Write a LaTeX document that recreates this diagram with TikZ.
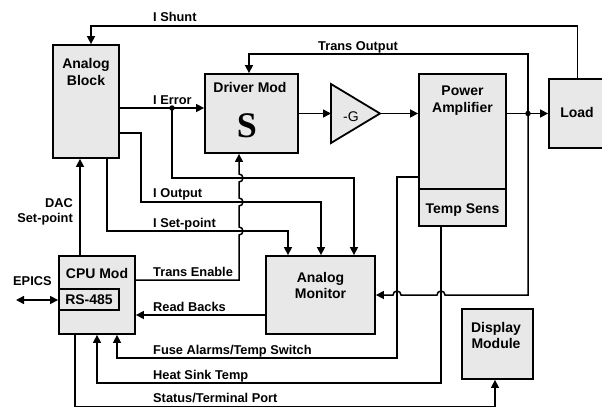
\documentclass[tikz,border=0pt]{standalone}
\usepackage{fontspec}
\setmainfont{Liberation Sans}
\newfontfamily\serffnt{Liberation Serif}
\usetikzlibrary{arrows.meta}
\definecolor{boxgray}{HTML}{E8E8E8}
\begin{document}
\begin{tikzpicture}[x=1pt,y=-1pt,
  box/.style={draw, line width=1.8pt, fill=boxgray, inner sep=0pt},
  conn/.style={line width=1.5pt},
  arr/.style={conn, -{Triangle[length=8pt,width=8pt]}},
  darr/.style={conn, {Triangle[length=8pt,width=8pt]}-{Triangle[length=8pt,width=8pt]}},
  title/.style={font=\bfseries\fontsize{14}{17}\selectfont, anchor=base, inner sep=0pt},
  lbl/.style={font=\bfseries\fontsize{12.8}{15}\selectfont, anchor=base west, inner sep=0pt},
  lble/.style={font=\bfseries\fontsize{12.8}{15}\selectfont, anchor=base east, inner sep=0pt},
  jdot/.style={circle, fill, inner sep=0pt, minimum size=5.5pt}]
\useasboundingbox (0,0) rectangle (602,408);

% boxes
\node[box, minimum width=66pt, minimum height=113pt] (ab) at (86,101.5) {};
\node[box, minimum width=93pt, minimum height=79pt] (dm) at (251.5,113.5) {};
\node[box, minimum width=87pt, minimum height=115pt] (pa) at (462.5,131.5) {};
\node[box, minimum width=87pt, minimum height=37pt] (ts) at (462.5,207.5) {};
\node[box, minimum width=57pt, minimum height=69pt] (load) at (577.5,113.5) {};
\node[box, minimum width=76pt, minimum height=78pt] (cpu) at (97,295) {};
\node[box, minimum width=60pt, minimum height=21pt] (rs) at (89,299.5) {};
\node[box, minimum width=109pt, minimum height=78pt] (am) at (320.5,295) {};
\node[box, minimum width=71pt, minimum height=70pt] (disp) at (497.5,344) {};

% gain triangle
\coordinate (gin) at (331,113.5);
\coordinate (gout) at (380,113.5);
\draw[line width=1.8pt, fill=boxgray] (331,84) -- (gout) -- (331,143) -- cycle;
\node[font=\fontsize{14}{17}\selectfont, anchor=base, inner sep=0pt] (gt) at (351,121) {-G};

% titles
\node[title] (abt1) at (86,68) {Analog};
\node[title] (abt2) at (86,85) {Block};
\node[title] (dmt) at (250,92) {Driver Mod};
\node[font=\serffnt\bfseries\fontsize{36}{36}\selectfont, anchor=base, inner sep=0pt] (dms) at (247,137) {S};
\node[title] (pat1) at (462.5,95) {Power};
\node[title] (pat2) at (462.5,112) {Amplifier};
\node[title] (tst) at (462.5,213) {Temp Sens};
\node[title] (loadt) at (577,117) {Load};
\node[title] (cput) at (97,278) {CPU Mod};
\node[title] (rst) at (89,304) {RS-485};
\node[title] (amt1) at (320.5,282) {Analog};
\node[title] (amt2) at (320.5,298) {Monitor};
\node[title] (dispt1) at (496,332) {Display};
\node[title] (dispt2) at (496,348) {Module};

% labels
\node[lbl] (l1) at (153,21) {I Shunt};
\node[lbl] (l2) at (318,50) {Trans Output};
\node[lbl] (l3) at (153,104) {I Error};
\node[lbl] (l4) at (153,197) {I Output};
\node[lbl] (l5) at (153,227) {I Set-point};
\node[lbl] (l6) at (153,276) {Trans Enable};
\node[lbl] (l7) at (153,311) {Read Backs};
\node[lbl] (l8) at (153,354) {Fuse Alarms/Temp Switch};
\node[lbl] (l9) at (153,379) {Heat Sink Temp};
\node[lbl] (l10) at (153,402) {Status/Terminal Port};
\node[lbl] (l11) at (13,285) {EPICS};
\node[lble] (l12) at (73,207) {DAC};
\node[lble] (l13) at (73,222) {Set-point};

% junctions
\node[jdot] (j1) at (172,108) {};
\node[jdot] (j2) at (528,113.5) {};

% connectors
\draw[arr] (load.north) -- (load.north |- 0,26) -- (91,26) -- (ab.north -| 91,0);
\draw[arr] (j2.center) -- (528,54) -- (249,54) -- (dm.north -| 249,0);
\draw[arr] (j2.center) -- (528,295) -- (445,295) arc[start angle=0, end angle=-180, radius=4]
   -- (401,295) arc[start angle=0, end angle=-180, radius=4] -- (am.east |- 0,295);
\draw[arr] (ab.east |- 0,108) -- (dm.west |- 0,108);
\draw[arr] (j1.center) -- (172,178) -- (354,178) -- (am.north -| 354,0);
\draw[arr] (ab.east |- 0,133) -- (141,133) -- (141,202) -- (321,202) -- (am.north -| 321,0);
\draw[arr] (ab.south -| 107,0) -- (107,231) -- (288,231) -- (am.north -| 288,0);
\draw[arr] (cpu.north -| 80,0) -- (ab.south -| 80,0);
\draw[arr] (cpu.east |- 0,280) -- (239,280) -- (239,235) arc[start angle=90, end angle=-90, radius=4]
   -- (239,206) arc[start angle=90, end angle=-90, radius=4]
   -- (239,182) arc[start angle=90, end angle=-90, radius=4] -- (dm.south -| 239,0);
\draw[arr] (am.west |- 0,315) -- (cpu.east |- 0,315);
\draw[arr] (pa.west |- 0,177) -- (397,177) -- (397,358) -- (117,358) -- (cpu.south -| 117,0);
\draw[arr] (ts.south -| 441,0) -- (441,383) -- (97,383) -- (cpu.south -| 97,0);
\draw[arr] (cpu.south -| 75,0) -- (75,406.5) -- (495,406.5) -- (disp.south -| 495,0);
\draw[darr] (16,300) -- (rs.west |- 0,300);
\draw[arr] (dm.east |- 0,113.5) -- (gin);
\draw[arr] (gout) -- (pa.west |- 0,113.5);
\draw[arr] (pa.east |- 0,113.5) -- (load.west |- 0,113.5);
\end{tikzpicture}
\end{document}
